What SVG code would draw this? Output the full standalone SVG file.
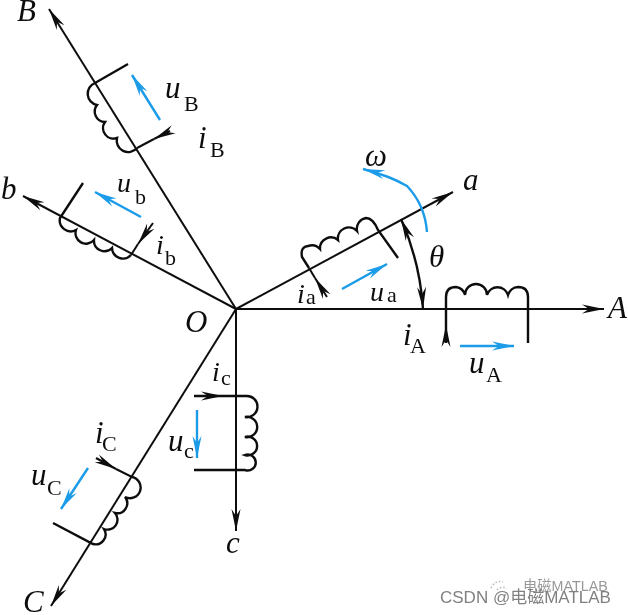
<svg xmlns="http://www.w3.org/2000/svg" width="628" height="615" viewBox="0 0 628 615">
<style>
.ax{fill:none;stroke:#111;stroke-width:2}
.coil{fill:none;stroke:#111;stroke-width:2.4}
.bl{fill:none;stroke:#1a9be8;stroke-width:2.4}
text{font-family:"Liberation Serif","Times New Roman",serif;fill:#111}
.v{font-style:italic;font-size:31px}
.n{font-style:italic;font-size:28px}
.s{font-size:22px}
.wm{font-family:"Liberation Sans","Noto Sans CJK SC",sans-serif;fill:#808080}
</style>
<defs>
<filter id="soft" x="0" y="0" width="100%" height="100%"><feGaussianBlur stdDeviation="0.45"/></filter>
<marker id="k" markerUnits="userSpaceOnUse" markerWidth="26" markerHeight="12" refX="22" refY="6" orient="auto"><path d="M0,1.5 L22,6 L0,10.5 L7,6Z" fill="#111"/></marker>
<marker id="ks" markerUnits="userSpaceOnUse" markerWidth="26" markerHeight="12" refX="4" refY="6" orient="auto"><path d="M26,1.5 L4,6 L26,10.5 L19,6Z" fill="#111"/></marker>
<marker id="b" markerUnits="userSpaceOnUse" markerWidth="26" markerHeight="12" refX="22" refY="6" orient="auto"><path d="M0,1.5 L22,6 L0,10.5 L7,6Z" fill="#1a9be8"/></marker>
</defs>
<rect width="628" height="615" fill="#fff"/>
<g filter="url(#soft)">
<g id="connectors">
<path class="ax" marker-end="url(#k)" d="M236,309 H604"/>
<path class="ax" marker-end="url(#k)" d="M236,309 L453,192"/>
<path class="ax" marker-end="url(#k)" d="M236,309 L49,9"/>
<path class="ax" marker-end="url(#k)" d="M236,309 L23,196"/>
<path class="ax" marker-end="url(#k)" d="M236,309 L51,606"/>
<path class="ax" marker-end="url(#k)" d="M236,309 V531"/>
<path class="ax" marker-start="url(#ks)" marker-end="url(#k)" style="stroke-width:2.4" d="M401,219 Q420,262 423,309"/>
</g>
<g id="coil-A"><path class="coil" d="M528,343 V297 Q528,287 518,287 A11,11 0 0 0 508,295 A11,11 0 0 0 487,295 A11,11 0 0 0 465,295 A11,11 0 0 0 456,287 Q446,287 446,297 V343"/><path class="ax" marker-end="url(#k)" d="M446,343 V325"/></g>
<g id="coil-a"><path class="coil" d="M398,258 L378,230 Q373,218 366,218 A11,11 0 0 0 357,231 A11,11 0 0 0 338,240 A11,11 0 0 0 320,249 A11,11 0 0 0 308,246 Q300,247 302,257 L309,268"/><path class="ax" marker-end="url(#k)" d="M327,297 L315,278"/><path class="ax" d="M315,278 L309,268"/></g>
<g id="coil-B"><path class="coil" d="M128,64 L95,83 A11.5,11.5 0 0 0 97,105 A10.5,10.5 0 0 0 105,122 A10.5,10.5 0 0 0 117,138 A11.5,11.5 0 0 0 137,148"/><path class="ax" marker-end="url(#k)" d="M170,131 L154,139"/><path class="ax" d="M154,139 L137,148"/></g>
<g id="coil-b"><path class="coil" d="M83,183 L60,218 A11,11 0 0 0 76,230 A10.5,10.5 0 0 0 94,240 A10.5,10.5 0 0 0 112,248 A11,11 0 0 0 131,255"/><path class="ax" marker-end="url(#k)" d="M153,223 L138,244"/><path class="ax" d="M138,244 L131,255"/></g>
<g id="coil-c"><path class="coil" d="M194,396 H246 A10.6,10.6 0 1 1 245,417 A10.2,10.2 0 1 1 245,437 A9.4,9.4 0 1 1 245,455 A8,8 0 1 1 245,470 H194"/><path class="ax" marker-end="url(#k)" d="M194,396 H223"/></g>
<g id="coil-C"><path class="coil" d="M132,477 A10.7,10.7 0 1 1 125,497 A10,10 0 0 1 115,513 A10,10 0 0 1 104,529 A10,10 0 0 1 93,544 L53,523"/><path class="ax" marker-end="url(#k)" d="M96,458 L116,469"/><path class="ax" d="M116,469 L132,477"/></g>
<g id="blue-arrows">
<path class="bl" marker-end="url(#b)" d="M160,120 L132,75"/>
<path class="bl" marker-end="url(#b)" d="M141,217 L95,192"/>
<path class="bl" marker-end="url(#b)" d="M342,289 L387,264"/>
<path class="bl" marker-end="url(#b)" d="M460,346 H514"/>
<path class="bl" marker-end="url(#b)" d="M197,410 V458"/>
<path class="bl" marker-end="url(#b)" d="M88,468 L61,509"/>
<path class="bl" marker-end="url(#b)" d="M427,232 Q425,205 407,186 Q390,176 363,169"/>
</g>
<g id="labels">
<text class="v" x="17" y="21">B</text>
<text class="v" x="1" y="199">b</text>
<text class="v" x="185" y="332">O</text>
<text class="v" x="463" y="190">a</text>
<text class="v" x="365" y="166">ω</text>
<text class="v" x="429" y="267">θ</text>
<text class="v" x="608" y="318">A</text>
<text class="v" x="226" y="553">c</text>
<text class="v" x="23" y="612">C</text>
<text class="v" x="165" y="98">u</text><text class="s" x="184" y="111">B</text>
<text class="v" x="198" y="148">i</text><text class="s" x="210" y="157">B</text>
<text class="n" x="117" y="192">u</text><text class="s" x="135" y="204">b</text>
<text class="n" x="156" y="254">i</text><text class="s" x="165" y="265">b</text>
<text class="n" x="297" y="303">i</text><text class="s" x="306" y="304">a</text>
<text class="n" x="370" y="301">u</text><text class="s" x="387" y="302">a</text>
<text class="v" x="403" y="345">i</text><text class="s" x="410" y="353">A</text>
<text class="v" x="469" y="373">u</text><text class="s" x="486" y="382">A</text>
<text class="n" x="212" y="381">i</text><text class="s" x="221" y="385">c</text>
<text class="v" x="95" y="443">i</text><text class="s" x="102" y="451">C</text>
<text class="v" x="31" y="485">u</text><text class="s" x="47" y="495">C</text>
<text class="v" x="168" y="451">u</text><text class="s" x="184" y="458">c</text>
</g>
<g id="watermark">
<path d="M491,588 Q495,580 503,582 M497,590 Q501,586 507,588" fill="none" stroke="#bbb" stroke-width="1.5" stroke-dasharray="1.5 2"/>
<text class="wm" x="523" y="591" style="font-size:14.3px;fill:#999">电磁MATLAB</text>
<text class="wm" x="440" y="603" style="font-size:17px">CSDN @电磁MATLAB</text>
</g>
</g>
</svg>
